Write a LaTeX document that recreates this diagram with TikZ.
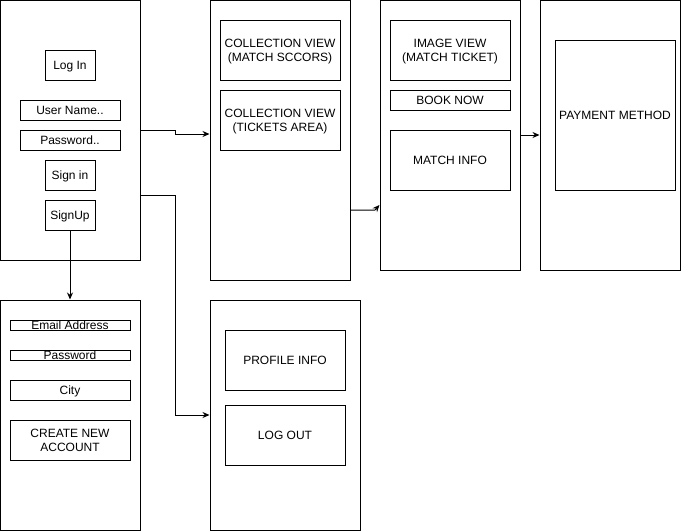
\documentclass[tikz,border=0pt]{standalone}
\usepackage{fontspec}
\setmainfont{Liberation Sans}
\usetikzlibrary{arrows.meta}
\begin{document}
\begin{tikzpicture}[x=1pt,y=-1pt,line width=1pt,
  box/.style={draw,fill=white,inner sep=0pt,align=center,font=\fontsize{12}{14}\selectfont},
  tb/.style={box,label={[txtlab]center:#1}},
  txtlab/.style={inner sep=0pt,align=center,font=\fontsize{12}{14}\selectfont,text depth=0pt},
  conn/.style={draw,-{Stealth[length=7pt,width=6pt]}}]
\useasboundingbox (0,0) rectangle (691,531);
% screens
\node[box,minimum width=140,minimum height=260] (login) at (70,130) {};
\node[box,minimum width=140,minimum height=230] (signupscr) at (70,415) {};
\node[box,minimum width=140,minimum height=280] (coll) at (280,140) {};
\node[box,minimum width=150,minimum height=230] (prof) at (285,415) {};
\node[box,minimum width=140,minimum height=270] (img) at (450,135) {};
\node[box,minimum width=140,minimum height=270] (pay) at (610,135) {};
% login contents
\node[tb={Log In},minimum width=50,minimum height=30] (loginbtn) at (70,65) {};
\node[tb={User Name..},minimum width=100,minimum height=20] (user) at (70,110) {};
\node[tb={Password..},minimum width=100,minimum height=20] (pass) at (70,140) {};
\node[tb={Sign in},minimum width=50,minimum height=30] (signin) at (70,175) {};
\node[tb={SignUp},minimum width=50,minimum height=30] (signup) at (70,215) {};
% sign up contents
\node[tb={Email Address},minimum width=120,minimum height=10] (email) at (70,325) {};
\node[tb={Password},minimum width=120,minimum height=10] (pw) at (70,355) {};
\node[tb={City},minimum width=120,minimum height=20] (city) at (70,390) {};
\node[tb={CREATE NEW\\ACCOUNT},minimum width=120,minimum height=40] (create) at (70,440) {};
% collection contents
\node[tb={COLLECTION VIEW\\(MATCH SCCORS)},minimum width=120,minimum height=60] (cv1) at (280,50) {};
\node[tb={COLLECTION VIEW\\(TICKETS AREA)},minimum width=120,minimum height=60] (cv2) at (280,120) {};
% profile contents
\node[tb={PROFILE INFO},minimum width=120,minimum height=60] (pinfo) at (285,360) {};
\node[tb={LOG OUT},minimum width=120,minimum height=60] (logout) at (285,435) {};
% image view contents
\node[tb={IMAGE VIEW\\(MATCH TICKET)},minimum width=120,minimum height=60] (iv) at (450,50) {};
\node[tb={BOOK NOW},minimum width=120,minimum height=20] (book) at (450,100) {};
\node[tb={MATCH INFO},minimum width=120,minimum height=60] (minfo) at (450,160) {};
% payment contents
\node[tb={PAYMENT METHOD},minimum width=120,minimum height=150] (pm) at (615,115) {};
% connectors
\draw[conn] (login.east |- 0,130) -- (175,130) -- (175,134) -- (coll.west |- 0,134);
\draw[conn] (login.east |- 0,195) -- (175,195) -- (175,415) -- (prof.west |- 0,415);
\draw[conn] (signup.south) -- (signupscr.north);
\draw[conn] (coll.east |- 0,210) -- (375,210) -- (img.west |- 0,205);
\draw[conn] (img.east |- 0,135) -- (pay.west |- 0,135);
\end{tikzpicture}
\end{document}
